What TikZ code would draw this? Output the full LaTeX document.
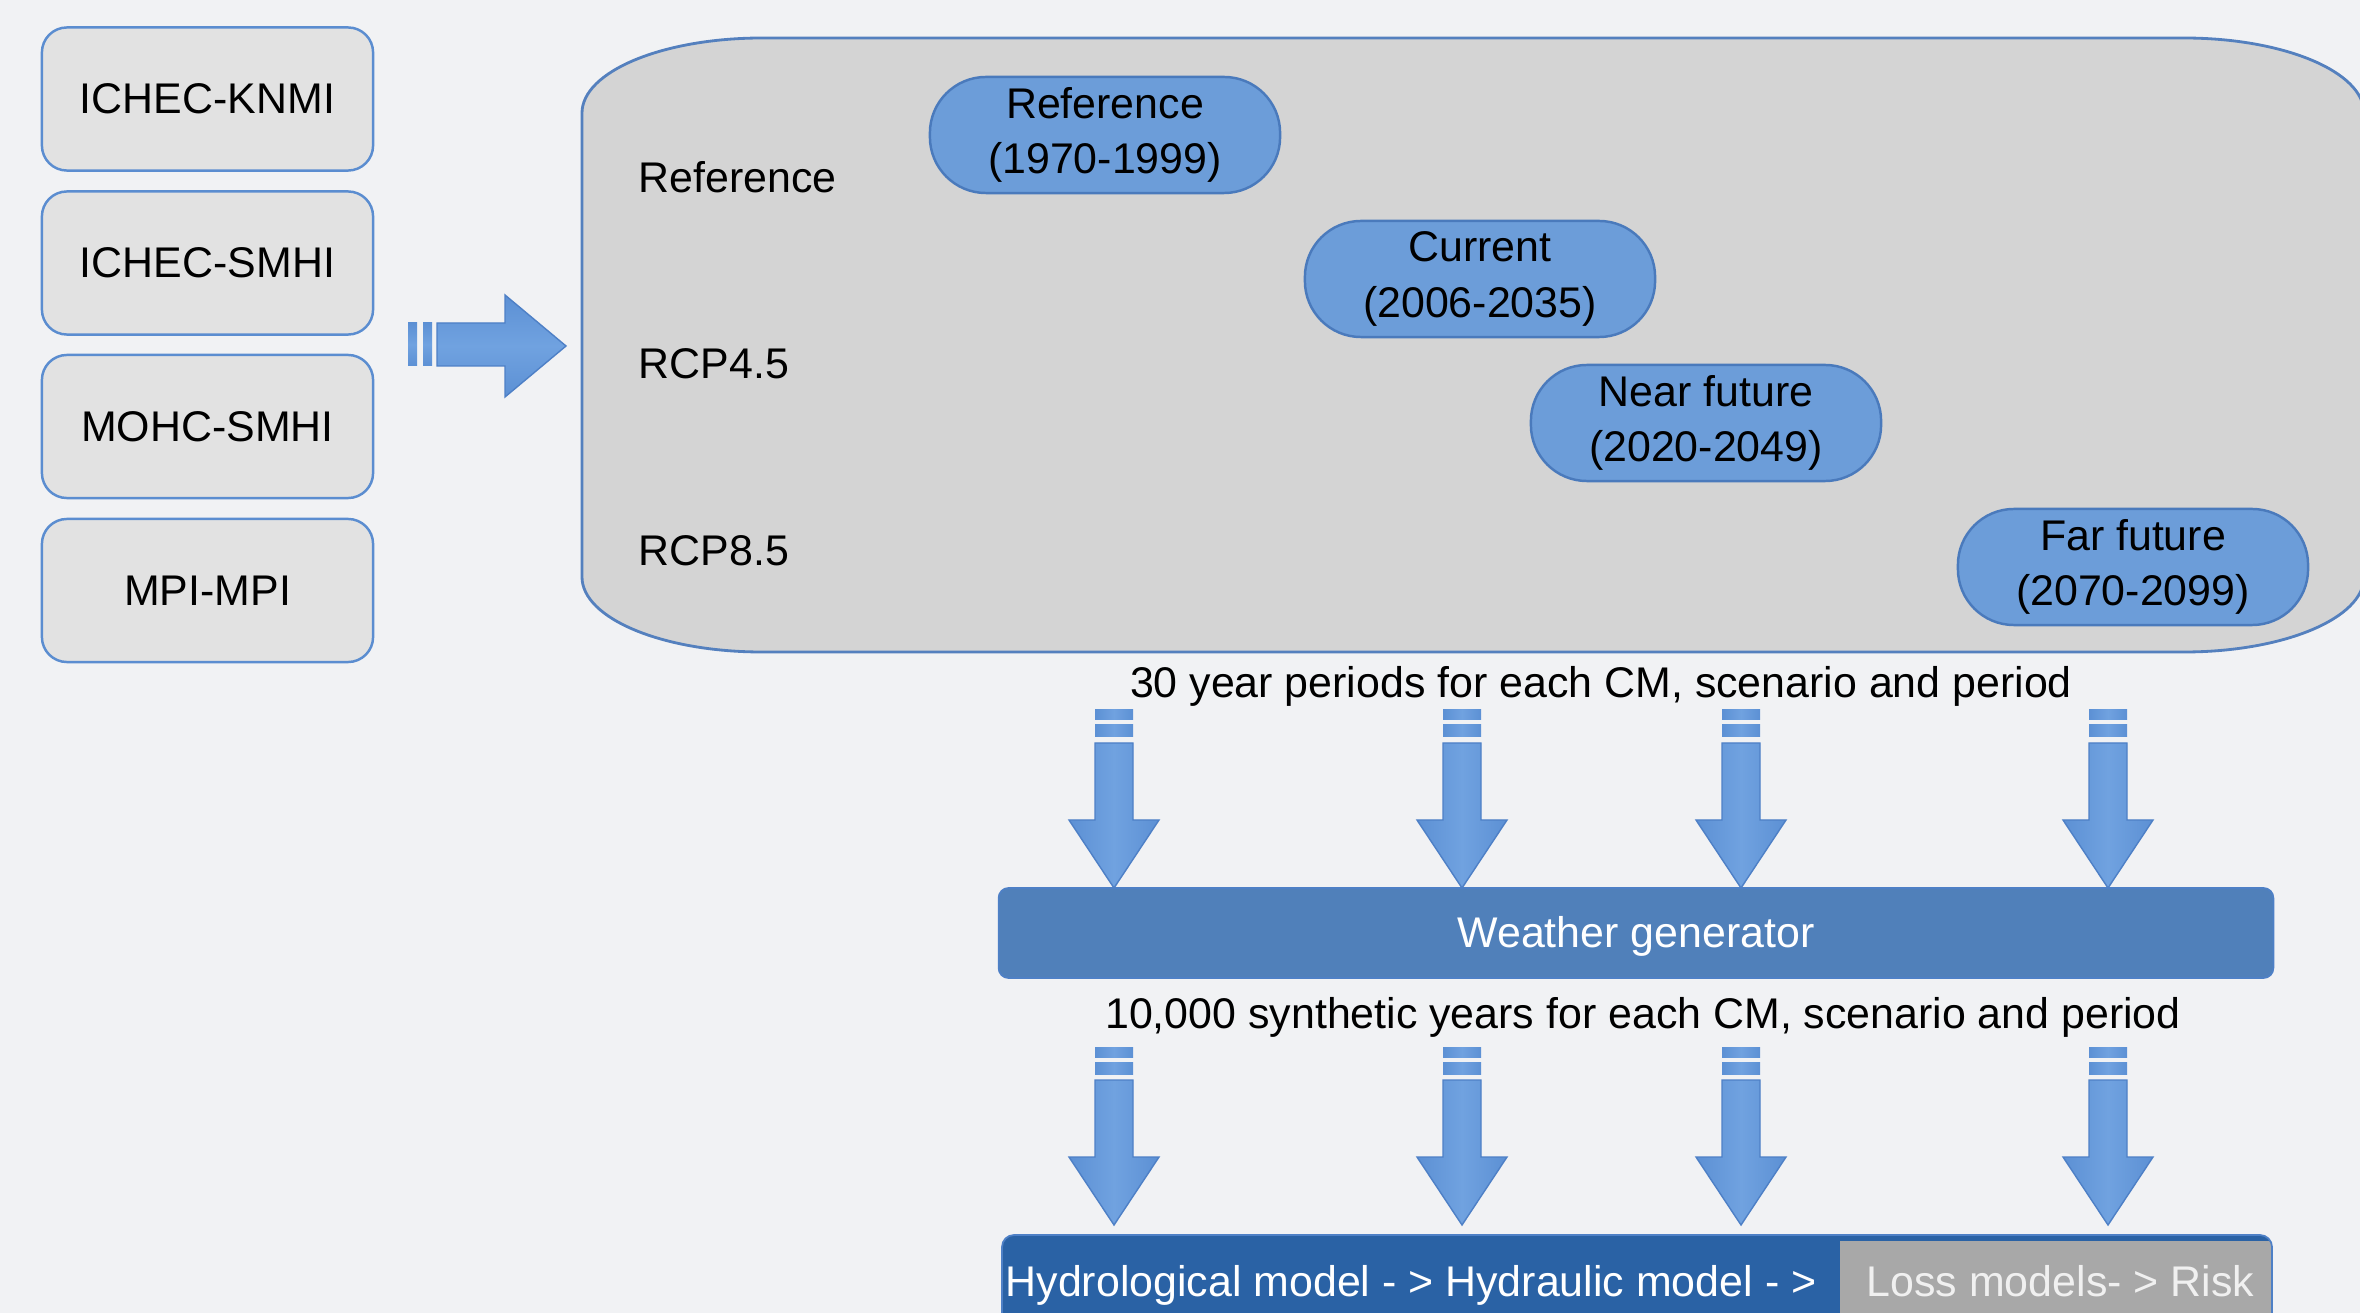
\documentclass[tikz,border=0pt]{standalone}
\usepackage{fontspec}
\setmainfont{Liberation Sans}
\definecolor{bg}{RGB}{241,242,244}
\definecolor{boxfill}{RGB}{226,226,226}
\definecolor{boxline}{RGB}{91,141,208}
\definecolor{bigfill}{RGB}{212,212,212}
\definecolor{bigline}{RGB}{84,128,190}
\definecolor{pillfill}{RGB}{108,157,217}
\definecolor{pillline}{RGB}{74,122,188}
\definecolor{arrowfill}{RGB}{92,144,212}
\definecolor{arrowlight}{RGB}{112,162,224}
\definecolor{arrowline}{RGB}{78,128,198}
\definecolor{wgfill}{RGB}{80,128,186}
\definecolor{hydfill}{RGB}{42,98,165}
\definecolor{lossfill}{RGB}{168,168,168}
\tikzset{
  lbl/.style={font=\fontsize{12.2}{14.6}\selectfont, text=black, inner sep=0pt},
  modelbox/.style={draw=boxline, line width=0.7pt, fill=boxfill, rounded corners=0.25cm,
    minimum width=3.31cm, minimum height=1.43cm, lbl},
  pill/.style={draw=pillline, line width=0.7pt, fill=pillfill, rounded corners=0.56cm,
    minimum width=3.5cm, minimum height=1.16cm, align=center, inner sep=0pt,
    font=\fontsize{12.2}{15.8}\selectfont},
  wgbar/.style={fill=wgfill, draw=arrowline, line width=0.5pt, rounded corners=0.1cm,
    minimum width=12.74cm, minimum height=0.9cm, inner sep=0pt},
  whitetxt/.style={text=white, inner sep=0pt, font=\fontsize{12.2}{14.6}\selectfont},
  arrowshade/.style={left color=arrowfill, right color=arrowfill, middle color=arrowlight},
  darrow/.pic={
    \fill[arrowshade] (-19,0) rectangle (19,10);
    \fill[arrowshade] (-19,15) rectangle (19,27);
    \draw[arrowshade, draw=arrowline, line width=0.4pt]
      (-19,33) -- (19,33) -- (19,110) -- (45,110) -- (0,178) -- (-45,110) -- (-19,110) -- cycle;
  }
}
\begin{document}
\begin{tikzpicture}[x=0.01cm, y=-0.01cm]
\useasboundingbox (0,0) rectangle (2360,1313);
\clip (0,0) rectangle (2360,1313);
\fill[bg] (0,0) rectangle (2360,1313);

% model boxes
\node[modelbox] (m1) at (207.5,99) {ICHEC-KNMI};
\node[modelbox] (m2) at (207.5,263) {ICHEC-SMHI};
\node[modelbox] (m3) at (207.5,426.5) {MOHC-SMHI};
\node[modelbox] (m4) at (207.5,590.5) {MPI-MPI};

% horizontal block arrow
\fill[top color=arrowfill, bottom color=arrowfill, middle color=arrowlight] (408,323) rectangle (417,366);
\fill[top color=arrowfill, bottom color=arrowfill, middle color=arrowlight] (423,323) rectangle (432,366);
\draw[top color=arrowfill, bottom color=arrowfill, middle color=arrowlight, draw=arrowline, line width=0.4pt]
  (437,323) -- (505,323) -- (505,295) -- (566,346) -- (505,397) -- (505,366) -- (437,366) -- cycle;

% big grey box
\filldraw[fill=bigfill, draw=bigline, line width=0.8pt]
  (582,113) .. controls (582,71.6) and (662.6,38) .. (762,38)
  -- (2184,38) .. controls (2283.4,38) and (2364,71.6) .. (2364,113)
  -- (2364,577) .. controls (2364,618.4) and (2283.4,652) .. (2184,652)
  -- (762,652) .. controls (662.6,652) and (582,618.4) .. (582,577) -- cycle;

% row labels
\node[lbl, anchor=base west] (rref) at (638,193) {Reference};
\node[lbl, anchor=base west] (r45) at (638,379) {RCP4.5};
\node[lbl, anchor=base west] (r85) at (638,566) {RCP8.5};

% period pills
\node[pill] (p1) at (1105,135) {Reference\\(1970-1999)};
\node[pill] (p2) at (1480,279) {Current\\(2006-2035)};
\node[pill] (p3) at (1706,423) {Near future\\(2020-2049)};
\node[pill] (p4) at (2133,567) {Far future\\(2070-2099)};

% texts
\node[lbl, anchor=base] (t30) at (1601,698) {30 year periods for each CM, scenario and period};

% first row of down arrows
\foreach \cx in {1114,1462,1741,2108} { \pic at (\cx,710) {darrow}; }

% weather generator
\node[wgbar] (wg) at (1636,933) {};
\node[whitetxt, anchor=base] (wgt) at (1636,948) {Weather generator};

\node[lbl, anchor=base] (t10k) at (1643,1028) {10,000 synthetic years for each CM, scenario and period};

% second row of down arrows
\foreach \cx in {1114,1462,1741,2108} { \pic at (\cx,1047) {darrow}; }

% bottom chain bar
\begin{scope}
  \path[clip, rounded corners=0.12cm] (1002,1360) -- (1002,1235) -- (2272,1235) -- (2272,1360) -- cycle;
  \fill[hydfill] (1002,1235) rectangle (2272,1360);
  \fill[lossfill] (1840,1241) rectangle (2272,1360);
\end{scope}
\draw[draw=arrowline, line width=0.5pt, rounded corners=0.12cm] (1002,1360) -- (1002,1235) -- (2272,1235) -- (2272,1360);
\node[whitetxt, anchor=base west] (hyd) at (1005,1296) {Hydrological model - > Hydraulic model - >};
\node[whitetxt, anchor=base west, text=white!94!black] (loss) at (1866,1296) {Loss models- > Risk};
\end{tikzpicture}
\end{document}
